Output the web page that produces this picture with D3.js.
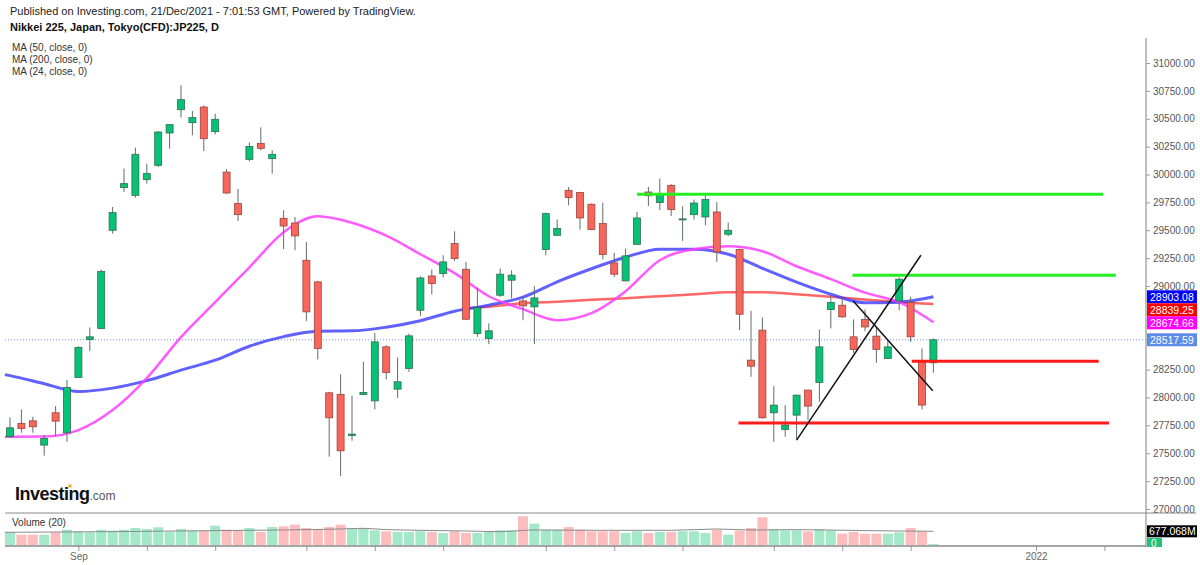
<!DOCTYPE html>
<html>
<head>
<meta charset="utf-8">
<script src="https://cdnjs.cloudflare.com/ajax/libs/d3/7.8.5/d3.min.js"></script>
<style>
body { margin: 0; background: #fff; }
text { font-family: "Liberation Sans", Arial, sans-serif; }
</style>
</head>
<body>
<script>
// Daily candles, Nikkei 225 CFD (index 0 = first visible day, 81 = 21 Dec 2021)
var opens  = [27648,27768,27791,27573,27863,27684,28180,28520,28619,29500,29882,29813,29954,30082,30372,30581,30465,30605,30384,30022,
              29739,30136,30279,30142,29607,29565,29231,29037,28042,28028,27660,28027,27970,28454,28075,28261,28783,29090,29112,29381,
              29150,28574,28529,28917,29052,28866,28813,29327,29455,29858,29838,29733,29560,29207,29046,29374,29843,29748,29903,29596,
              29640,29619,29664,29464,29327,28335,28604,27863,27714,27842,28066,28135,28789,28828,28544,28700,28550,28350,28866,28852,
              28326,28311];
var highs  = [27822,27893,27827,27663,27923,28156,28460,28628,29148,29709,30053,30241,30097,30390,30450,30799,30569,30620,30545,30049,
              29870,30288,30423,30217,29679,29619,29395,29046,28051,28207,28015,28320,28580,28469,28359,28574,29088,29148,29276,29491,
              29216,28987,28664,29157,29141,28902,28998,29658,29596,29888,29845,29740,29748,29297,29336,29664,29888,29963,29912,29715,
              29775,29813,29753,29569,29336,28777,28718,28102,27932,28025,28072,28610,28908,28902,28700,28789,28633,28514,29076,28902,
              28440,28529];
var lows   = [27640,27684,27684,27478,27654,27603,28180,28416,28619,29470,29843,29793,29918,30067,30232,30510,30351,30210,30360,29825,
              29583,30118,30217,30008,29330,29321,28687,28341,27469,27296,27612,28021,27893,28162,27997,28230,28732,28926,29076,29225,
              28693,28544,28478,28902,28888,28693,28478,29276,29450,29724,29506,29500,29240,29081,29040,29370,29718,29681,29628,29404,
              29596,29545,29216,29446,28604,28185,27810,27603,27648,27624,27797,27961,28619,28715,28400,28595,28311,28345,28783,28499,
              27893,28221];
var closes = [27728,27723,27737,27633,27788,28090,28449,28544,29130,29658,29918,30181,30008,30381,30447,30671,30510,30321,30495,29834,
              29640,30252,30235,30181,29538,29449,28768,28440,27818,27522,27672,28045,28499,28225,28141,28553,29072,29022,29216,29246,
              28702,28807,28598,29106,29097,28822,28893,29649,29515,29793,29610,29506,29282,29106,29270,29610,29809,29813,29685,29602,
              29744,29775,29305,29500,28747,28281,27818,27932,27753,28021,27923,28454,28852,28723,28431,28633,28431,28454,29061,28544,
              27932,28517.59];
// Volume, millions
var volumes = [627,512,512,512,627,759,660,627,759,710,759,842,792,875,644,792,710,710,957,759,
               726,842,644,891,924,1007,842,792,891,1007,792,842,726,677,644,644,677,644,594,677,
               594,594,644,726,726,1419,1056,759,759,891,759,677,677,677,594,677,594,644,644,677,
               677,594,759,512,710,842,1370,792,726,726,677,792,726,561,644,561,561,561,627,842,
               677,0];

// Moving averages
var maIdx  = [-0.45,0,3,6,9,12,15,18,21,24,27,30,33,36,39,42,45,48,51,54,57,60,63,66,69,72,75,78,81];
var ma50   = [28205,28196,28124,28053,28084,28151,28245,28335,28460,28546,28595,28598,28631,28689,28774,28828,28900,29038,29155,29258,29330,
              29330,29285,29159,29034,28926,28850,28855,28903.08];
var ma24   = [27648,27648,27650,27708,27887,28174,28541,28855,29168,29482,29625,29567,29451,29285,29115,28908,28792,28693,28756,28953,29231,
              29330,29356,29312,29177,29061,28940,28855,28674.66];
var ma200Idx = [40,42,45,48,51,54,57,60,63,66,69,72,75,78,81];
var ma200    = [28801,28814,28846,28859,28877,28891,28908,28926,28944,28943,28926,28904,28880,28855,28839.25];
var volMaIdx = [-0.45,9,18,29,31,33,40,43,46,52,58,62,65,69,75,81];
var volMa    = [627,660,710,792,825,759,693,660,742,726,726,792,742,759,710,677.068];

// Axis ticks
var priceTicks = [27000,27250,27500,27750,28000,28250,28500,28750,29000,29250,29500,29750,30000,30250,30500,30750,31000];
var dateTickIdx = [6,12,18,26,32,38,47,53,59,67,73,79,90,96];
var dateTickLabels = ["Sep","","","","","","","","","","","","2022",""];

// Drawn levels and trend lines (candle index, price)
var greenLevelStart = [55.0, 73.9], greenLevelEnd = [95.9, 97.0], greenLevelPrice = [29822, 29097];
var redLevelStart = [63.9, 79.1], redLevelEnd = [96.4, 95.5], redLevelPrice = [27771, 28326];
var trendFrom = [[69.0, 27618], [73.97, 28866]];
var trendTo = [[79.9, 29276], [80.94, 28060]];

var width = 1200, height = 565,
    axisX = 1146;

var svg = d3.select("body").append("svg")
    .attr("width", width)
    .attr("height", height);

// Scales
var x = d3.scaleLinear().domain([0, 81]).range([10, 933.4]);
var y = d3.scaleLinear().domain([27000, 31000]).range([509, 63]);
var yVol = d3.scaleLinear().domain([0, 1419]).range([545, 516.3]);

var candles = opens.map(function(o, i) {
    return {i: i, o: o, h: highs[i], l: lows[i], c: closes[i], v: volumes[i], up: closes[i] >= o};
});

// Header
svg.append("text").attr("x", 10).attr("y", 15)
    .style("font-size", "11px").style("fill", "#222")
    .text("Published on Investing.com, 21/Dec/2021 - 7:01:53 GMT, Powered by TradingView.");
svg.append("text").attr("x", 10).attr("y", 31)
    .style("font-size", "11px").style("font-weight", "bold").style("fill", "#111")
    .text("Nikkei 225, Japan, Tokyo(CFD):JP225, D");
["MA (50, close, 0)", "MA (200, close, 0)", "MA (24, close, 0)"].forEach(function(t, k) {
    svg.append("text").attr("x", 12).attr("y", 51 + k * 12)
        .style("font-size", "10px").style("fill", "#333").text(t);
});

// Right price axis
var yAxis = d3.axisRight(y)
    .tickValues(priceTicks)
    .tickSize(4)
    .tickFormat(d3.format(".2f"));
var gy = svg.append("g")
    .attr("class", "y axis")
    .attr("transform", "translate(" + axisX + ",0)")
    .call(yAxis);
gy.select(".domain").remove();
gy.selectAll("line").attr("stroke", "#999");
gy.selectAll("text").attr("x", 7)
    .style("font-size", "10px").style("fill", "#555").style("font-family", "Liberation Sans, Arial, sans-serif");

svg.append("line").attr("x1", axisX).attr("x2", axisX).attr("y1", 38).attr("y2", 547)
    .attr("stroke", "#aaa").attr("stroke-width", 1.5);

// Separator between price and volume panes
svg.append("line").attr("x1", 5).attr("x2", 1196).attr("y1", 513).attr("y2", 513)
    .attr("stroke", "#888").attr("stroke-width", 1);

// Bottom date axis
var xAxis = d3.axisBottom(x)
    .tickValues(dateTickIdx)
    .tickSize(5)
    .tickFormat(function(d, i) { return dateTickLabels[i]; });
var gx = svg.append("g")
    .attr("class", "x axis")
    .attr("transform", "translate(0,546)")
    .call(xAxis);
gx.select(".domain").remove();
gx.selectAll("line").attr("stroke", "#999");
gx.selectAll("text").attr("y", 7)
    .style("font-size", "10px").style("fill", "#666").style("font-family", "Liberation Sans, Arial, sans-serif");
svg.append("line").attr("x1", 5).attr("x2", axisX).attr("y1", 546).attr("y2", 546)
    .attr("stroke", "#888").attr("stroke-width", 1.5);

// Volume bars
svg.append("text").attr("x", 12).attr("y", 526)
    .style("font-size", "10px").style("fill", "#333").text("Volume (20)");

svg.selectAll(".vol")
    .data(candles)
    .enter().append("rect")
    .attr("class", "vol")
    .attr("x", function(d) { return x(d.i) - 5; })
    .attr("width", 10)
    .attr("y", function(d) { return Math.min(yVol(d.v), 544); })
    .attr("height", function(d) { return Math.max(545 - yVol(d.v), 1); })
    .attr("fill", function(d) { return d.up ? "#a3e8c9" : "#fcbdbc"; });

svg.append("path")
    .datum(volMaIdx.map(function(d, k) { return [d, volMa[k]]; }))
    .attr("fill", "none")
    .attr("stroke", "#8a8a8a")
    .attr("stroke-width", 1)
    .attr("d", d3.line()
        .curve(d3.curveMonotoneX)
        .x(function(d) { return x(d[0]); })
        .y(function(d) { return yVol(d[1]); }));

// Last price dotted line
svg.append("line")
    .attr("x1", 5).attr("x2", axisX)
    .attr("y1", y(closes[closes.length - 1])).attr("y2", y(closes[closes.length - 1]))
    .attr("stroke", "#6f93ea").attr("stroke-width", 1).attr("stroke-dasharray", "1,2");

// Moving average lines
var maLine = d3.line()
    .curve(d3.curveMonotoneX)
    .x(function(d) { return x(d[0]); })
    .y(function(d) { return y(d[1]); });

svg.append("path")
    .datum(ma200Idx.map(function(d, k) { return [d, ma200[k]]; }))
    .attr("fill", "none").attr("stroke", "#ff4040").attr("stroke-opacity", 0.8)
    .attr("stroke-width", 2.5).attr("d", maLine);
svg.append("path")
    .datum(maIdx.map(function(d, k) { return [d, ma50[k]]; }))
    .attr("fill", "none").attr("stroke", "#3a3aff").attr("stroke-opacity", 0.8)
    .attr("stroke-width", 3).attr("d", maLine);
svg.append("path")
    .datum(maIdx.map(function(d, k) { return [d, ma24[k]]; }))
    .attr("fill", "none").attr("stroke", "#ff3dff").attr("stroke-opacity", 0.85)
    .attr("stroke-width", 2.5).attr("d", maLine);

// Candles
svg.selectAll(".wick")
    .data(candles)
    .enter().append("line")
    .attr("class", "wick")
    .attr("x1", function(d) { return x(d.i); })
    .attr("x2", function(d) { return x(d.i); })
    .attr("y1", function(d) { return y(d.h); })
    .attr("y2", function(d) { return y(d.l); })
    .attr("stroke", "#5f6f68")
    .attr("stroke-width", 1);

svg.selectAll(".body")
    .data(candles)
    .enter().append("rect")
    .attr("class", "body")
    .attr("x", function(d) { return x(d.i) - 3.5; })
    .attr("width", 7)
    .attr("y", function(d) { return y(Math.max(d.o, d.c)); })
    .attr("height", function(d) { return Math.max(Math.abs(y(d.o) - y(d.c)), 1); })
    .attr("fill", function(d) { return d.up ? "#06c274" : "#f8665b"; })
    .attr("stroke", function(d) { return d.up ? "#2f6e4f" : "#9a4540"; })
    .attr("stroke-width", 0.8);

// Drawn support / resistance levels
greenLevelPrice.forEach(function(p, k) {
    svg.append("line")
        .attr("x1", x(greenLevelStart[k])).attr("x2", x(greenLevelEnd[k]))
        .attr("y1", y(p)).attr("y2", y(p))
        .attr("stroke", "#22ee22").attr("stroke-width", 3);
});
redLevelPrice.forEach(function(p, k) {
    svg.append("line")
        .attr("x1", x(redLevelStart[k])).attr("x2", x(redLevelEnd[k]))
        .attr("y1", y(p)).attr("y2", y(p))
        .attr("stroke", "#ff1a1a").attr("stroke-width", 3);
});
trendFrom.forEach(function(a, k) {
    var b = trendTo[k];
    svg.append("line")
        .attr("x1", x(a[0])).attr("y1", y(a[1]))
        .attr("x2", x(b[0])).attr("y2", y(b[1]))
        .attr("stroke", "#111").attr("stroke-width", 1.5);
});

// Value labels on the right axis, pushed apart when they overlap
var labels = [
    {v: ma50[ma50.length - 1], fill: "#0000ff", text: d3.format(".2f")(ma50[ma50.length - 1])},
    {v: ma200[ma200.length - 1], fill: "#ff0000", text: d3.format(".2f")(ma200[ma200.length - 1])},
    {v: ma24[ma24.length - 1], fill: "#ff00ff", text: d3.format(".2f")(ma24[ma24.length - 1])},
    {v: closes[closes.length - 1], fill: "#5f8be8", text: d3.format(".2f")(closes[closes.length - 1])}
];
labels.forEach(function(d) { d.y = y(d.v); });
labels.sort(function(a, b) { return a.y - b.y; });
for (var k = 1; k < labels.length; k++) {
    if (labels[k].y < labels[k - 1].y + 13) labels[k].y = labels[k - 1].y + 13;
}
// tick labels hidden behind a value label are not shown
gy.selectAll(".tick text").filter(function(d) {
    return labels.some(function(l) { return Math.abs(y(d) - l.y) < 9; });
}).remove();

labels.forEach(function(d) {
    svg.append("rect").attr("x", axisX + 1).attr("y", d.y - 6.5)
        .attr("width", 50).attr("height", 13).attr("fill", d.fill);
    svg.append("text").attr("x", axisX + 4).attr("y", d.y + 4)
        .style("font-size", "10.5px").style("fill", "#fff").text(d.text);
});

// Volume labels
svg.append("rect").attr("x", axisX + 1).attr("y", yVol(volMa[volMa.length - 1]) - 6)
    .attr("width", 50).attr("height", 12).attr("fill", "#000");
svg.append("text").attr("x", axisX + 3).attr("y", yVol(volMa[volMa.length - 1]) + 4)
    .style("font-size", "10.5px").style("fill", "#fff").text("677.068M");
svg.append("rect").attr("x", axisX + 1).attr("y", 538)
    .attr("width", 15).attr("height", 9).attr("fill", "#1fc27a");
svg.append("text").attr("x", axisX + 5).attr("y", 547)
    .style("font-size", "10px").style("fill", "#fff").text("0");

// Investing.com logo
var logo = svg.append("text").attr("x", 15).attr("y", 500);
logo.append("tspan").style("font-size", "18px").style("font-weight", "bold")
    .style("fill", "#111").style("letter-spacing", "-0.5px").text("Investing");
logo.append("tspan").style("font-size", "12px").style("fill", "#555").text(".com");
svg.append("circle").attr("cx", 70).attr("cy", 486).attr("r", 1.8).attr("fill", "#f5a623");
</script>
</body>
</html>
